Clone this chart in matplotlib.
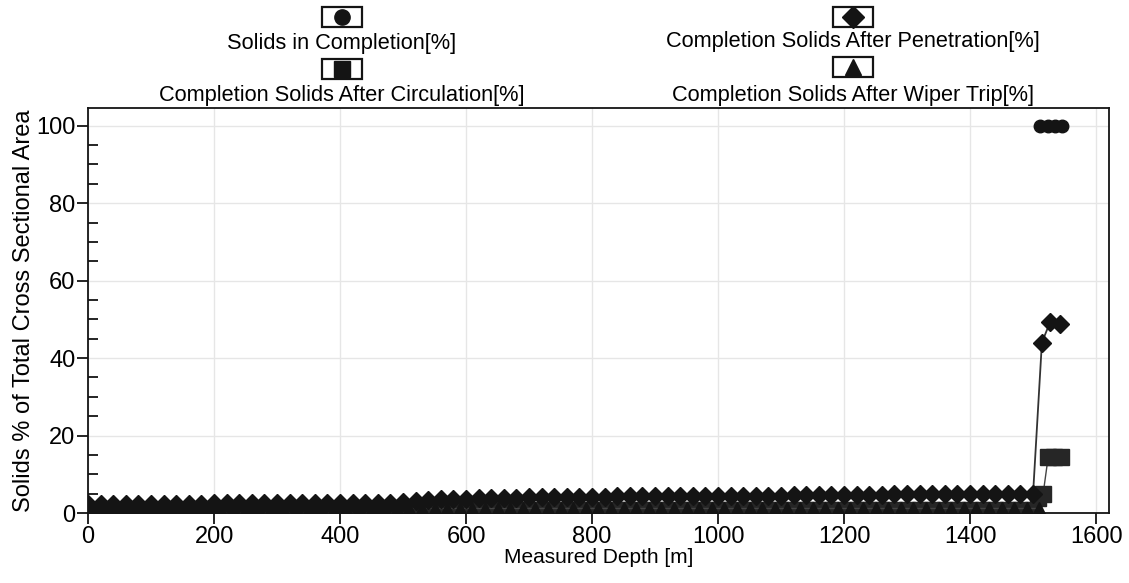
import matplotlib
matplotlib.use('Agg')
import matplotlib.pyplot as plt
import numpy as np
from matplotlib.patches import Rectangle
from matplotlib.lines import Line2D
from matplotlib.ticker import MultipleLocator

plt.rcParams['font.family'] = ['Liberation Sans', 'DejaVu Sans']

# Completion Solids After Penetration [%]
pen_depth = [0, 20, 40, 60, 80, 100, 120, 140, 160, 180,
             200, 220, 240, 260, 280, 300, 320, 340, 360, 380,
             400, 420, 440, 460, 480, 500, 520, 540, 560, 580,
             600, 620, 640, 660, 680, 700, 720, 740, 760, 780,
             800, 820, 840, 860, 880, 900, 920, 940, 960, 980,
             1000, 1020, 1040, 1060, 1080, 1100, 1120, 1140, 1160, 1180,
             1200, 1220, 1240, 1260, 1280, 1300, 1320, 1340, 1360, 1380,
             1400, 1420, 1440, 1460, 1480, 1500, 1514, 1527, 1543]
pen_val = [2.4, 2.4, 2.4, 2.4, 2.4, 2.4, 2.4, 2.4, 2.4, 2.4,
           2.5, 2.5, 2.5, 2.5, 2.5, 2.5, 2.5, 2.5, 2.5, 2.5,
           2.6, 2.6, 2.6, 2.6, 2.7, 2.9, 3.2, 3.4, 3.5, 3.6,
           3.7, 3.8, 3.9, 4.0, 4.0, 4.1, 4.1, 4.2, 4.2, 4.2,
           4.2, 4.2, 4.3, 4.3, 4.3, 4.3, 4.3, 4.4, 4.4, 4.4,
           4.4, 4.4, 4.4, 4.5, 4.5, 4.5, 4.6, 4.6, 4.6, 4.6,
           4.7, 4.7, 4.7, 4.7, 4.8, 4.8, 4.8, 4.8, 4.8, 4.9,
           4.9, 4.9, 4.9, 5.0, 5.0, 5.0, 44.0, 49.3, 48.8]

# Solids in Completion [%]
comp_depth = [0, 20, 40, 60, 80, 100, 120, 140, 160, 180,
              200, 220, 240, 260, 280, 300, 320, 340, 360, 380,
              400, 420, 440, 460, 480, 500, 520, 540, 560, 580,
              600, 620, 640, 660, 680, 700, 720, 740, 760, 780,
              800, 820, 840, 860, 880, 900, 920, 940, 960, 980,
              1000, 1020, 1040, 1060, 1080, 1100, 1120, 1140, 1160, 1180,
              1200, 1220, 1240, 1260, 1280, 1300, 1320, 1340, 1360, 1380,
              1400, 1420, 1440, 1460, 1480, 1500, 1506, 1511, 1523, 1535, 1546]
comp_val = [0.3] * 76 + [np.nan, 100, 100, 100, 100]

# Completion Solids After Circulation [%]
circ_depth = [0, 20, 40, 60, 80, 100, 120, 140, 160, 180,
              200, 220, 240, 260, 280, 300, 320, 340, 360, 380,
              400, 420, 440, 460, 480, 500, 520, 540, 560, 580,
              600, 620, 640, 660, 680, 700, 720, 740, 760, 780,
              800, 820, 840, 860, 880, 900, 920, 940, 960, 980,
              1000, 1020, 1040, 1060, 1080, 1100, 1120, 1140, 1160, 1180,
              1200, 1220, 1240, 1260, 1280, 1300, 1320, 1340, 1360, 1380,
              1400, 1420, 1440, 1460, 1480, 1500, 1508, 1516, 1524, 1534, 1545]
circ_val = [0.8] * 76 + [4.0, 5.0, 14.5, 14.5, 14.5]

# Completion Solids After Wiper Trip [%]
wiper_depth = [10, 30, 50, 70, 90, 110, 130, 150, 170, 190,
               210, 230, 250, 270, 290, 310, 330, 350, 370, 390,
               410, 430, 450, 470, 490, 510, 530, 550, 570, 590,
               610, 630, 650, 670, 690, 710, 730, 750, 770, 790,
               810, 830, 850, 870, 890, 910, 930, 950, 970, 990,
               1010, 1030, 1050, 1070, 1090, 1110, 1130, 1150, 1170, 1190,
               1210, 1230, 1250, 1270, 1290, 1310, 1330, 1350, 1370, 1390,
               1410, 1430, 1450, 1470, 1490, 1510]
wiper_val = [1.2] * 76

x_ticks = [0, 200, 400, 600, 800, 1000, 1200, 1400, 1600]
y_ticks = [0, 20, 40, 60, 80, 100]

ink = '#141414'
fig = plt.figure(figsize=(11.29, 5.83), dpi=100)
ax = fig.add_axes([0.078, 0.12, 0.904, 0.695])

ax.plot(comp_depth, comp_val, color='#444444', lw=1, marker='o', ms=9,
        mfc=ink, mec=ink, zorder=3)
ax.plot(circ_depth, circ_val, color='#444444', lw=1, marker='s', ms=11,
        mfc='#262626', mec='#262626', zorder=3)
ax.plot(wiper_depth, wiper_val, color='#444444', lw=1, marker='^', ms=8,
        mfc=ink, mec=ink, zorder=3)
ax.plot(pen_depth, pen_val, color='#333333', lw=1.3, marker='D', ms=9,
        mfc=ink, mec=ink, zorder=4)

ax.set_xlim(0, 1620)
ax.set_ylim(0, 104.6)
ax.set_xticks(x_ticks)
ax.set_yticks(y_ticks)
ax.yaxis.set_minor_locator(MultipleLocator(5))
ax.tick_params(axis='both', which='major', direction='out', length=8, width=1.2,
               labelsize=17, pad=1)
ax.tick_params(axis='y', which='minor', direction='in', length=7, width=1.2)
ax.grid(True, which='major', color='#e6e6e6', lw=1)
ax.set_axisbelow(True)
for s in ax.spines.values():
    s.set_linewidth(1.3)
    s.set_color(ink)

ax.set_xlabel('Measured Depth [m]', fontsize=15, labelpad=0)
ax.set_ylabel('Solids % of Total Cross Sectional Area', fontsize=17, labelpad=1)

# legend: marker box above each label, two columns
W, H = 1129.0, 583.0
entries = [
    (342, 17, 44, 'o', 'Solids in Completion[%]'),
    (342, 69, 96, 's', 'Completion Solids After Circulation[%]'),
    (853, 17, 42, 'D', 'Completion Solids After Penetration[%]'),
    (853, 67, 95, '^', 'Completion Solids After Wiper Trip[%]'),
]
for cx, by, ty, mk, lab in entries:
    fig.add_artist(Rectangle(((cx - 20) / W, 1 - (by + 10) / H), 40 / W, 20 / H,
                             transform=fig.transFigure, fill=False,
                             edgecolor=ink, lw=1.6))
    fig.add_artist(Line2D([cx / W], [1 - by / H], marker=mk, ms=11,
                          mfc=ink, mec=ink, transform=fig.transFigure))
    fig.text(cx / W, 1 - ty / H, lab, ha='center', va='center', fontsize=15.7)

plt.savefig('out.png', dpi=100)
plt.close()
